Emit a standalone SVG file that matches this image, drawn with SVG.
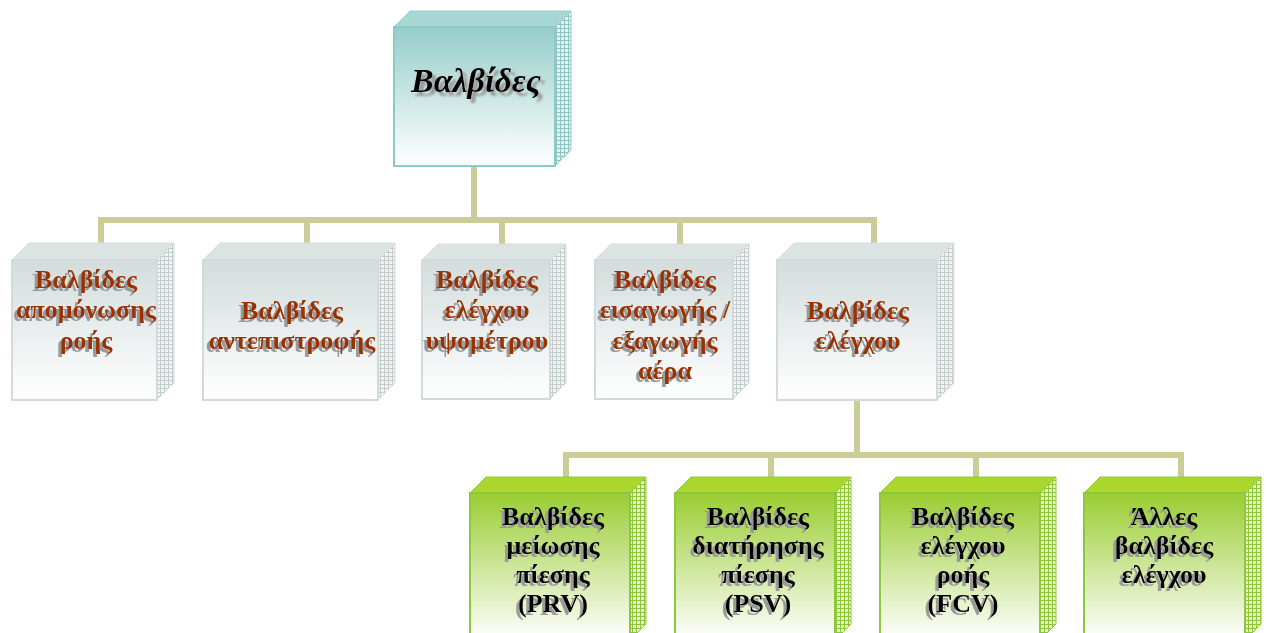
<svg xmlns="http://www.w3.org/2000/svg" width="1267" height="633" viewBox="0 0 1267 633">
  <defs>
    <!-- front face gradients -->
    <linearGradient id="gTeal" x1="0" y1="0" x2="0" y2="1">
      <stop offset="0" stop-color="#96cdc9"/>
      <stop offset="1" stop-color="#ffffff"/>
    </linearGradient>
    <linearGradient id="gGrey" x1="0" y1="0" x2="0" y2="1">
      <stop offset="0" stop-color="#d3dcdc"/>
      <stop offset="1" stop-color="#ffffff"/>
    </linearGradient>
    <linearGradient id="gGreen" x1="0" y1="0" x2="0" y2="1">
      <stop offset="0" stop-color="#9acd32"/>
      <stop offset="1" stop-color="#ffffff"/>
    </linearGradient>
    <!-- mesh texture for the side faces -->
    <pattern id="pTeal" width="4" height="4" patternUnits="userSpaceOnUse">
      <rect width="4" height="4" fill="#e2f3f1"/>
      <path d="M0 0.5H4M0.5 0V4" stroke="#8cc6c2" stroke-width="1"/>
    </pattern>
    <pattern id="pGrey" width="4" height="4" patternUnits="userSpaceOnUse">
      <rect width="4" height="4" fill="#f1f4f4"/>
      <path d="M0 0.5H4M0.5 0V4" stroke="#c3cbcb" stroke-width="1"/>
    </pattern>
    <pattern id="pGreen" width="4" height="4" patternUnits="userSpaceOnUse">
      <rect width="4" height="4" fill="#e4f4c4"/>
      <path d="M0 0.5H4M0.5 0V4" stroke="#8cc63a" stroke-width="1"/>
    </pattern>
    <!-- text shadows -->
    <filter id="shL" x="-10%" y="-20%" width="120%" height="150%">
      <feOffset in="SourceAlpha" dx="-3" dy="3" result="o"/>
      <feGaussianBlur in="o" stdDeviation="0.6" result="b"/>
      <feFlood flood-color="#9a9a9a"/>
      <feComposite in2="b" operator="in" result="s"/>
      <feMerge><feMergeNode in="s"/><feMergeNode in="SourceGraphic"/></feMerge>
    </filter>
    <filter id="shR" x="-10%" y="-20%" width="120%" height="150%">
      <feOffset in="SourceAlpha" dx="4" dy="4" result="o"/>
      <feGaussianBlur in="o" stdDeviation="0.8" result="b"/>
      <feFlood flood-color="#9a9a9a"/>
      <feComposite in2="b" operator="in" result="s"/>
      <feMerge><feMergeNode in="s"/><feMergeNode in="SourceGraphic"/></feMerge>
    </filter>
  </defs>
  <style>
    .conn { stroke: #cccc99; stroke-width: 6; fill: none; stroke-linecap: butt; }
    .tealFront { fill: url(#gTeal); stroke: #8ccaca; stroke-width: 2; }
    .tealTop { fill: #a7d7d3; stroke: #9ad0cc; stroke-width: 1; }
    .tealSide { fill: url(#pTeal); stroke: #9ad0cc; stroke-width: 1; }
    .greyFront { fill: url(#gGrey); stroke: #d2dbdb; stroke-width: 2; }
    .greyTop { fill: #dce3e3; stroke: #d5dddd; stroke-width: 1; }
    .greySide { fill: url(#pGrey); stroke: #d5dddd; stroke-width: 1; }
    .greenFront { fill: url(#gGreen); stroke: #8dc63f; stroke-width: 2; }
    .greenTop { fill: #aad62e; stroke: #94c83a; stroke-width: 1; }
    .greenSide { fill: url(#pGreen); stroke: #94c83a; stroke-width: 1; }
    text { font-family: "Liberation Serif", "Times New Roman", serif; font-weight: bold; text-anchor: middle; }
    .title { font-size: 34px; font-style: italic; fill: #000000; }
    .brown { font-size: 26px; fill: #993300; }
    .black { font-size: 26px; fill: #000000; }
  </style>

  <!-- connectors -->
  <g id="connectors">
    <path class="conn" d="M474 166V220"/>
    <path class="conn" d="M98 220H877"/>
    <path class="conn" d="M101 217V244M307 217V244M502 217V244M680 217V244M874 217V244"/>
    <path class="conn" d="M857 400V455"/>
    <path class="conn" d="M563 455H1184"/>
    <path class="conn" d="M566 452V479M771 452V479M976 452V479M1181 452V479"/>
  </g>

  <!-- root -->
  <g id="root">
    <polygon class="tealTop" points="394,27 410,11 571,11 555,27"/>
    <polygon class="tealSide" points="555,27 571,11 571,150 555,166"/>
    <rect class="tealFront" x="394" y="27" width="161" height="139"/>
    <text class="title" x="476" y="92" filter="url(#shR)">Βαλβίδες</text>
  </g>

  <!-- second level -->
  <g id="isolation">
    <polygon class="greyTop" points="12,260 29,243 174,243 157,260"/>
    <polygon class="greySide" points="157,260 174,243 174,383 157,400"/>
    <rect class="greyFront" x="12" y="260" width="145" height="140"/>
    <text class="brown" filter="url(#shL)"><tspan x="86" y="288">Βαλβίδες</tspan><tspan x="86" y="318">απομόνωσης</tspan><tspan x="86" y="349">ροής</tspan></text>
  </g>
  <g id="check">
    <polygon class="greyTop" points="203,260 220,243 395,243 378,260"/>
    <polygon class="greySide" points="378,260 395,243 395,383 378,400"/>
    <rect class="greyFront" x="203" y="260" width="175" height="140"/>
    <text class="brown" filter="url(#shL)"><tspan x="292" y="319">Βαλβίδες</tspan><tspan x="292" y="349">αντεπιστροφής</tspan></text>
  </g>
  <g id="altitude">
    <polygon class="greyTop" points="422,260 438,244 566,244 550,260"/>
    <polygon class="greySide" points="550,260 566,244 566,383 550,399"/>
    <rect class="greyFront" x="422" y="260" width="128" height="139"/>
    <text class="brown" filter="url(#shL)"><tspan x="487" y="288">Βαλβίδες</tspan><tspan x="487" y="318">ελέγχου</tspan><tspan x="487" y="349">υψομέτρου</tspan></text>
  </g>
  <g id="air">
    <polygon class="greyTop" points="595,260 611,244 749,244 733,260"/>
    <polygon class="greySide" points="733,260 749,244 749,383 733,399"/>
    <rect class="greyFront" x="595" y="260" width="138" height="139"/>
    <text class="brown" filter="url(#shL)"><tspan x="665" y="288">Βαλβίδες</tspan><tspan x="665" y="318">εισαγωγής /</tspan><tspan x="665" y="349">εξαγωγής</tspan><tspan x="665" y="379">αέρα</tspan></text>
  </g>
  <g id="control">
    <polygon class="greyTop" points="777,260 794,243 954,243 937,260"/>
    <polygon class="greySide" points="937,260 954,243 954,383 937,400"/>
    <rect class="greyFront" x="777" y="260" width="160" height="140"/>
    <text class="brown" filter="url(#shL)"><tspan x="858" y="319">Βαλβίδες</tspan><tspan x="858" y="349">ελέγχου</tspan></text>
  </g>

  <!-- third level -->
  <g id="prv">
    <polygon class="greenTop" points="470,493 486,477 646,477 630,493"/>
    <polygon class="greenSide" points="630,493 646,477 646,624 630,640"/>
    <rect class="greenFront" x="470" y="493" width="160" height="147"/>
    <text class="black" filter="url(#shL)"><tspan x="553" y="525">Βαλβίδες</tspan><tspan x="553" y="554">μείωσης</tspan><tspan x="553" y="583">πίεσης</tspan><tspan x="553" y="612">(PRV)</tspan></text>
  </g>
  <g id="psv">
    <polygon class="greenTop" points="675,493 691,477 851,477 835,493"/>
    <polygon class="greenSide" points="835,493 851,477 851,624 835,640"/>
    <rect class="greenFront" x="675" y="493" width="160" height="147"/>
    <text class="black" filter="url(#shL)"><tspan x="758" y="525">Βαλβίδες</tspan><tspan x="758" y="554">διατήρησης</tspan><tspan x="758" y="583">πίεσης</tspan><tspan x="758" y="612">(PSV)</tspan></text>
  </g>
  <g id="fcv">
    <polygon class="greenTop" points="880,493 896,477 1056,477 1040,493"/>
    <polygon class="greenSide" points="1040,493 1056,477 1056,624 1040,640"/>
    <rect class="greenFront" x="880" y="493" width="160" height="147"/>
    <text class="black" filter="url(#shL)"><tspan x="963" y="525">Βαλβίδες</tspan><tspan x="963" y="554">ελέγχου</tspan><tspan x="963" y="583">ροής</tspan><tspan x="963" y="612">(FCV)</tspan></text>
  </g>
  <g id="other">
    <polygon class="greenTop" points="1084,493 1100,477 1261,477 1245,493"/>
    <polygon class="greenSide" points="1245,493 1261,477 1261,624 1245,640"/>
    <rect class="greenFront" x="1084" y="493" width="161" height="147"/>
    <text class="black" filter="url(#shL)"><tspan x="1164" y="525">Άλλες</tspan><tspan x="1164" y="554">βαλβίδες</tspan><tspan x="1164" y="583">ελέγχου</tspan></text>
  </g>
</svg>
